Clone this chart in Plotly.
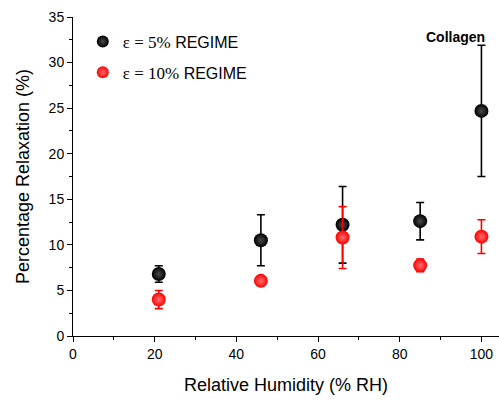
import plotly.graph_objects as go

# Relative humidity levels (% RH)
rh = [21, 46, 66, 85, 100]

# Percentage relaxation, 5% strain regime
relax_5 = [6.8, 10.5, 12.2, 12.6, 24.7]
err_5 = [0.9, 2.8, 4.2, 2.05, 7.2]

# Percentage relaxation, 10% strain regime
relax_10 = [4.0, 6.05, 10.8, 7.75, 10.9]
err_10 = [1.0, 0.3, 3.4, 0.7, 1.85]

SERIF = "Liberation Serif, Times New Roman, serif"
label_5 = f'<span style="font-family:{SERIF};font-size:17px">ε = 5%</span> REGIME'
label_10 = f'<span style="font-family:{SERIF};font-size:17px">ε = 10%</span> REGIME'

fig = go.Figure()

def add_series(y, err, color, highlight, name, group):
    fig.add_trace(go.Scatter(
        x=rh, y=y, mode="markers", name=name, legendgroup=group,
        error_y=dict(type="data", array=err, visible=True,
                     color=color, thickness=1.6, width=4),
        marker=dict(size=14, color=color,
                    gradient=dict(type="radial", color=highlight),
                    line=dict(width=0)),
    ))

add_series(relax_5, err_5, "#000000", "#4a4a4a", label_5, "g5")
add_series(relax_10, err_10, "#ff0000", "#ff7070", label_10, "g10")

fig.add_annotation(
    x=0.898, y=32.8, xref="paper", yref="y", xanchor="center",
    text="<b>Collagen</b>", showarrow=False,
    font=dict(family="Liberation Sans, Arial, sans-serif", size=14, color="#000"),
)

axis_common = dict(
    showgrid=False, zeroline=False, showline=True, linecolor="#000", linewidth=1,
    ticks="outside", ticklen=5, tickwidth=1, tickcolor="#000",
    tickfont=dict(family="Liberation Sans, Arial, sans-serif", size=14, color="#000"),
    mirror=False,
)

fig.update_xaxes(
    **axis_common, range=[0, 104.3], tickmode="linear", tick0=0, dtick=20,
    minor=dict(ticks="outside", ticklen=3, dtick=10, tickcolor="#000"),
    title=dict(text="Relative Humidity (% RH)", standoff=17,
               font=dict(family="Liberation Sans, Arial, sans-serif", size=18, color="#000")),
)
fig.update_yaxes(
    **axis_common, range=[0, 35], tickmode="linear", tick0=0, dtick=5,
    minor=dict(ticks="outside", ticklen=3, dtick=2.5, tickcolor="#000"),
    title=dict(text="Percentage Relaxation (%)", standoff=14,
               font=dict(family="Liberation Sans, Arial, sans-serif", size=18, color="#000")),
)

fig.update_layout(
    width=499, height=401,
    margin=dict(l=73, r=0, t=17, b=65),
    plot_bgcolor="#ffffff", paper_bgcolor="#ffffff",
    showlegend=True,
    legend=dict(x=0.023, y=0.976, xanchor="left", yanchor="top",
                bgcolor="rgba(0,0,0,0)",
                font=dict(family="Liberation Sans, Arial, sans-serif", size=16, color="#000"),
                tracegroupgap=7, itemsizing="constant"),
)

fig.write_html("out.html")
